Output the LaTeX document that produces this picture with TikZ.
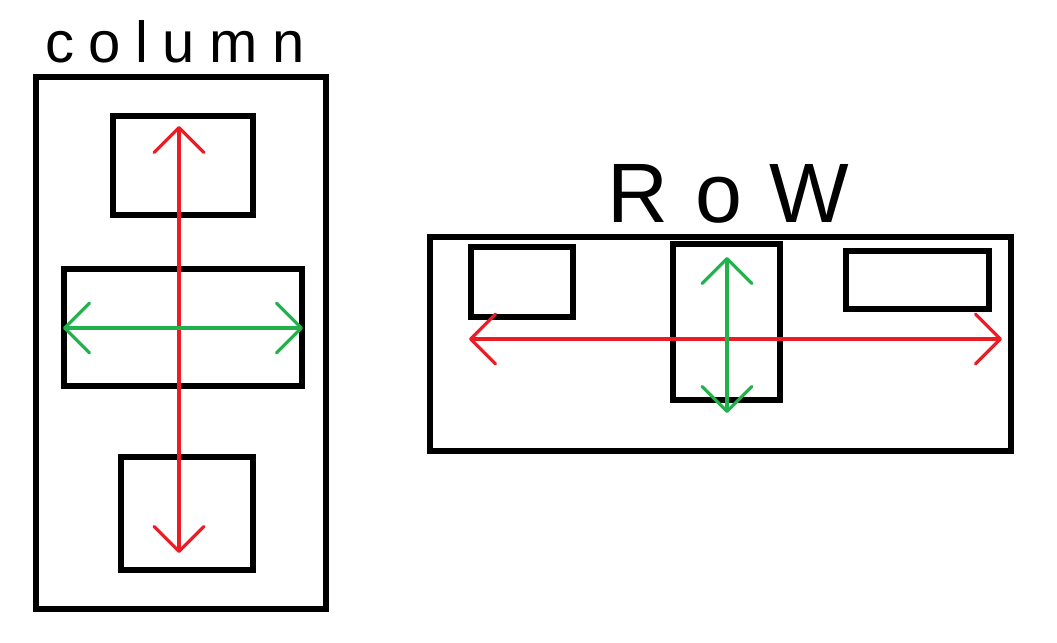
\documentclass[tikz,border=0pt]{standalone}
\usepackage{fontspec}
\setmainfont{Liberation Sans}
\newfontfamily\colfont[LetterSpace=25]{Liberation Sans}
\newfontfamily\rowfont[LetterSpace=32]{Liberation Sans}
\usetikzlibrary{arrows.meta,fit}
\definecolor{pred}{HTML}{ED1C24}
\definecolor{pgreen}{HTML}{22B14C}
\tikzset{
  >={Straight Barb[length=5mm,width=10mm,line width=1.8pt,round]},
  pbox/.style={draw=black, line width=2.9pt, inner sep=0pt},
  parr/.style={<->, line width=2.8pt},
  predarr/.style={parr, pred},
  pgreenarr/.style={parr, pgreen, line width=2.5pt},
  phand/.style={anchor=base west, inner sep=0pt},
}
\begin{document}
\begin{tikzpicture}[x=0.02cm,y=-0.02cm]
  \useasboundingbox (0,0) rectangle (1057,642);

  % column
  \node[phand, font=\colfont\fontsize{33}{40}\selectfont] (colLabel) at (45,63) {column};
  \node[pbox, fit={(36,77) (326,609)}] (colOuter) {};
  \node[pbox, fit={(113,116) (253,215)}] (colTop) {};
  \node[pbox, fit={(64,269) (302,386)}] (colMid) {};
  \node[pbox, fit={(121,457) (253,570)}] (colBot) {};
  \coordinate (colUp) at (179,126);
  \coordinate (colDown) at (179,553);
  \coordinate (colLeft) at (63,328);
  \coordinate (colRight) at (303,328);
  \draw[predarr] (colUp) -- (colDown);
  \draw[pgreenarr] (colLeft) -- (colRight);

  % row
  \node[phand, font=\rowfont\fontsize{48}{56}\selectfont] (rowLabel) at (607,222) {RoW};
  \node[pbox, fit={(430,237) (1011,451)}] (rowOuter) {};
  \node[pbox, fit={(471,247) (573,317)}] (rowLeft) {};
  \node[pbox, fit={(673,244) (780,400)}] (rowMid) {};
  \node[pbox, fit={(846,251) (989,309)}] (rowRight) {};
  \coordinate (rowStart) at (469,339);
  \coordinate (rowEnd) at (1002,339);
  \coordinate (rowUp) at (727,257);
  \coordinate (rowDown) at (727,413);
  \draw[predarr] (rowStart) -- (rowEnd);
  \draw[pgreenarr] (rowUp) -- (rowDown);
\end{tikzpicture}
\end{document}
